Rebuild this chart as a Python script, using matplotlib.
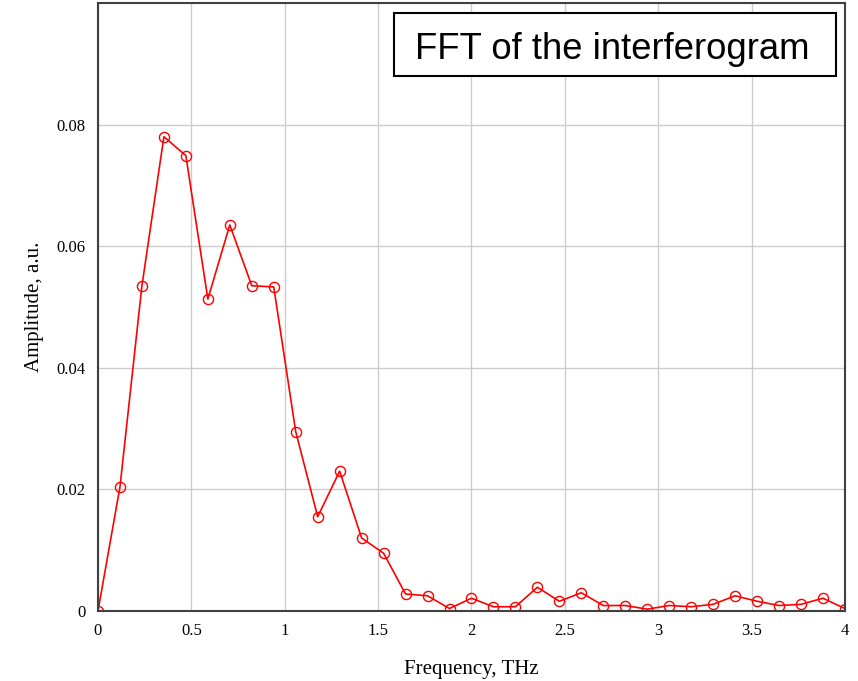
import numpy as np
import matplotlib
matplotlib.use("Agg")
import matplotlib.pyplot as plt
from matplotlib.patches import Rectangle

# spectrum samples, 0..4 THz with 34 equal steps
freq = np.linspace(0, 4, 35)
amplitude = [0.0, 0.0204, 0.0535, 0.0780, 0.0749, 0.0513, 0.0635, 0.0535,
             0.0533, 0.0295, 0.0155, 0.0230, 0.0120, 0.0095, 0.0028, 0.0025,
             0.0004, 0.0021, 0.0007, 0.0007, 0.0039, 0.0016, 0.0030, 0.0009,
             0.0009, 0.0003, 0.0009, 0.0007, 0.0011, 0.0025, 0.0016, 0.0009,
             0.0011, 0.0021, 0.0004]

xticks = [0, 0.5, 1, 1.5, 2, 2.5, 3, 3.5, 4]
xtick_labels = ["0", "0.5", "1", "1.5", "2", "2.5", "3", "3.5", "4"]
yticks = [0, 0.02, 0.04, 0.06, 0.08]
ytick_labels = ["0", "0.02", "0.04", "0.06", "0.08"]

fig = plt.figure(figsize=(8.58, 6.81), dpi=100)
ax = fig.add_axes([0.1142, 0.1028, 0.8706, 0.8928])

ax.plot(freq, amplitude, color="red", lw=1.2, marker="o", markersize=7.3,
        markerfacecolor="none", markeredgecolor="red", markeredgewidth=1.0)

ax.set_xlim(0, 4)
ax.set_ylim(0, 0.1)
ax.set_xticks(xticks)
ax.set_xticklabels(xtick_labels)
ax.set_yticks(yticks)
ax.set_yticklabels(ytick_labels)
ax.tick_params(length=0, pad=9, labelsize=12)
for lab in ax.get_xticklabels() + ax.get_yticklabels():
    lab.set_family("Liberation Serif")

ax.grid(True, color="#cccccc", lw=1.0)
ax.set_axisbelow(True)
for sp in ax.spines.values():
    sp.set_color("#404040")
    sp.set_linewidth(1.5)

ax.set_xlabel("Frequency, THz", family="Liberation Serif", fontsize=15, labelpad=15)
ax.set_ylabel("Amplitude, a.u.", family="Liberation Serif", fontsize=15, labelpad=9)

# framed caption in the upper right corner
ax.add_patch(Rectangle((0.396, 0.880), 0.592, 0.1036, transform=ax.transAxes,
                       facecolor="white", edgecolor="black", lw=1.5, zorder=5))
ax.text(0.689, 0.908, "FFT of the interferogram", transform=ax.transAxes,
        ha="center", va="baseline", family="Liberation Sans", fontsize=26.3,
        zorder=6)

fig.savefig("out.png", dpi=100)
